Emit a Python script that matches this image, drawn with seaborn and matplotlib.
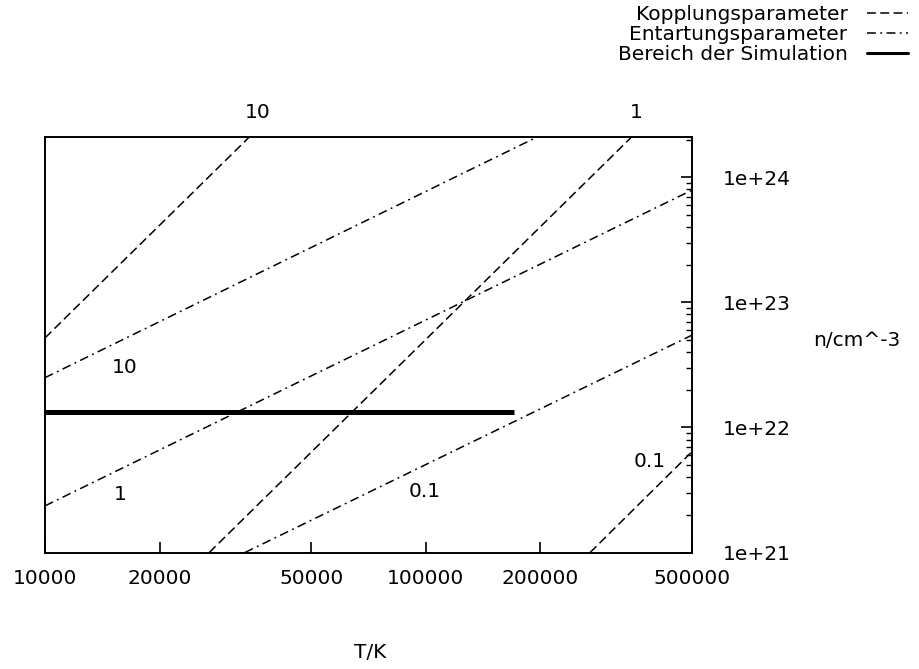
import numpy as np
import pandas as pd
import matplotlib
matplotlib.use("Agg")
import matplotlib.pyplot as plt
import seaborn as sns
from matplotlib.ticker import FixedLocator, FixedFormatter, NullLocator, LogLocator, NullFormatter
from matplotlib.lines import Line2D

# ---------------- data ----------------
coupling_labels = ["10", "1", "0.1"]
coupling_T = [[10000, 34400], [27000, 347000], [270000, 500000]]
coupling_n = [[5.2e22, 2.1e24], [1e21, 2.1e24], [1e21, 6.4e21]]

degeneracy_labels = ["10", "1", "0.1"]
degeneracy_T = [[10000, 196000], [10000, 500000], [33500, 500000]]
degeneracy_n = [[2.5e22, 2.1e24], [2.36e21, 7.9e23], [1e21, 5.47e22]]

sim_T = [10000, 170000]
sim_n = [1.33e22, 1.33e22]

annot_texts = ["10", "1", "10", "1", "0.1", "0.1"]
annot_T = [36200, 358000, 16230, 15740, 99500, 388000]
annot_n = [3.3e24, 3.3e24, 3.0e22, 2.9e21, 3.05e21, 5.3e21]

x_ticks = [10000, 20000, 50000, 100000, 200000, 500000]
x_ticklabels = ["10000", "20000", "50000", "100000", "200000", "500000"]
y_ticks = [1e21, 1e22, 1e23, 1e24]
y_ticklabels = ["1e+21", "1e+22", "1e+23", "1e+24"]
x_range = [10000, 500000]
y_range = [1e21, 2.1e24]

legend_labels = ["Kopplungsparameter", "Entartungsparameter", "Bereich der Simulation"]

# ---------------- build long-form table ----------------
rows = []
for lab, T, n in zip(coupling_labels, coupling_T, coupling_n):
    for t, v in zip(T, n):
        rows.append({"curve": "K" + lab, "kind": "Kopplung", "T": t, "n": v})
for lab, T, n in zip(degeneracy_labels, degeneracy_T, degeneracy_n):
    for t, v in zip(T, n):
        rows.append({"curve": "E" + lab, "kind": "Entartung", "T": t, "n": v})
df = pd.DataFrame(rows)
df_sim = pd.DataFrame({"T": sim_T, "n": sim_n})

# ---------------- style ----------------
sns.set_style("white")
plt.rcParams["font.family"] = ["DejaVu Sans"]
plt.rcParams["font.size"] = 14.5
plt.rcParams["axes.linewidth"] = 1.4
for key in ["text.color", "axes.labelcolor", "xtick.color", "ytick.color",
            "axes.edgecolor"]:
    plt.rcParams[key] = "black"

fig = plt.figure(figsize=(9.2, 6.69), dpi=100)
ax = fig.add_axes([45 / 920, 1 - 552.5 / 669, 647 / 920, 415.5 / 669])
ax.set_xscale("log")
ax.set_yscale("log")

dash_k = (5.8, 2.9)
dash_e = (5.8, 2.9, 1.2, 2.9)

sns.lineplot(data=df, x="T", y="n", units="curve", style="kind",
             style_order=["Kopplung", "Entartung"],
             dashes={"Kopplung": dash_k, "Entartung": dash_e},
             estimator=None, sort=False, color="black", lw=1.1,
             legend=False, ax=ax)
sns.lineplot(data=df_sim, x="T", y="n", estimator=None, sort=False,
             color="black", lw=3.6, legend=False, ax=ax,
             solid_capstyle="butt")

for txt, t, v in zip(annot_texts, annot_T, annot_n):
    ax.text(t, v, txt, ha="center", va="center", fontsize=14.5,
            color="black", clip_on=False)

ax.set_xlim(*x_range)
ax.set_ylim(*y_range)

# x axis
ax.xaxis.set_major_locator(FixedLocator(x_ticks))
ax.xaxis.set_major_formatter(FixedFormatter(x_ticklabels))
ax.xaxis.set_minor_locator(NullLocator())
ax.tick_params(axis="x", which="major", direction="in", length=8, width=1.2,
               bottom=True, top=False, pad=12, colors="black")

# y axis on the right
ax.yaxis.set_major_locator(FixedLocator(y_ticks))
ax.yaxis.set_major_formatter(FixedFormatter(y_ticklabels))
ax.yaxis.set_minor_locator(LogLocator(base=10, subs=np.arange(2, 10)))
ax.yaxis.set_minor_formatter(NullFormatter())
ax.tick_params(axis="y", which="both", direction="in", left=False, right=True,
               labelleft=False, labelright=True, colors="black")
ax.tick_params(axis="y", which="major", length=8, width=1.2, pad=22)
ax.tick_params(axis="y", which="minor", length=4.3, width=1.0)

ax.set_xlabel("T/K", color="black")
ax.xaxis.set_label_coords(0.502, -0.218)
ax.set_ylabel("n/cm^-3", rotation=0, ha="left", va="center", color="black")
ax.yaxis.set_label_coords(1.187, 0.511)

for sp in ax.spines.values():
    sp.set_color("black")
    sp.set_linewidth(1.4)

handles = [Line2D([], [], color="black", lw=1.1, dashes=dash_k),
           Line2D([], [], color="black", lw=1.1, dashes=dash_e),
           Line2D([], [], color="black", lw=2.2)]
fig.legend(handles, legend_labels, loc="upper right",
           bbox_to_anchor=(908 / 920, 1 - 5 / 669),
           frameon=False, markerfirst=False, handlelength=2.05,
           handletextpad=0.95, labelspacing=0.04, borderpad=0,
           borderaxespad=0, fontsize=14.5, labelcolor="black")

fig.savefig("out.png", dpi=100)
